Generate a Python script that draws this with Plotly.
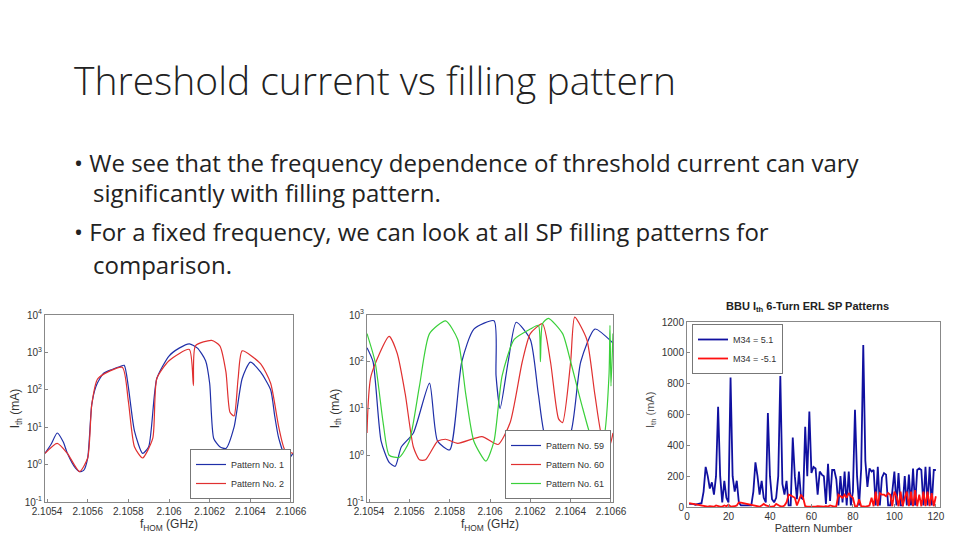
import plotly.graph_objects as go

# panel 1: patterns 1 and 2
f1_blue = [2.10539, 2.10542, 2.10545, 2.10548, 2.1055, 2.10554, 2.10556, 2.10558, 2.1056, 2.10562, 2.10564, 2.10566, 2.10568, 2.10572, 2.10576, 2.10578,
           2.1058, 2.10583, 2.10587, 2.1059, 2.10594, 2.106, 2.10605, 2.1061, 2.10614, 2.10618, 2.1062, 2.10622, 2.10625, 2.10628,
           2.10632, 2.10636, 2.1064, 2.10645, 2.1065, 2.10652, 2.10654, 2.10658, 2.10661]
i1_blue = [2, 3.5, 7, 4, 2, 0.8, 0.65, 0.7, 1.5, 40, 120, 200, 280, 350, 420, 450,
           120, 8, 2, 3, 200, 800, 1300, 1700, 1300, 600, 150, 5, 3, 2.7,
           10, 200, 550, 300, 100, 20, 5, 1.3, 2]
f1_red = [2.10539, 2.10545, 2.1055, 2.10556, 2.1056, 2.10562, 2.10565, 2.10577, 2.1058, 2.10583, 2.10587, 2.10592, 2.10594, 2.106,
          2.1061, 2.10612, 2.10613, 2.10621, 2.10625, 2.10628, 2.1063, 2.10632, 2.10634, 2.10636, 2.10645, 2.1065, 2.10654, 2.10657, 2.10661]
i1_red = [2, 3.7, 2, 0.65, 1.5, 40, 200, 400, 50, 3, 1.5, 5, 200, 600,
          1200, 130, 1500, 2100, 1500, 300, 25, 20, 200, 1100, 500, 150, 10, 2.5, 2]

# panel 2: patterns 59, 60, 61
f2_blue = [2.10539, 2.10542, 2.10546, 2.1055, 2.10553, 2.10556, 2.10562, 2.1057, 2.10574, 2.1058, 2.10586, 2.10592, 2.10602, 2.10603,
           2.10605, 2.10609, 2.10613, 2.1062, 2.10624, 2.10628, 2.10634, 2.1064, 2.10645, 2.10652, 2.10661]
i2_blue = [200, 100, 2, 0.7, 0.58, 1.5, 3, 35, 2, 1.3, 100, 500, 750, 50,
           10, 100, 700, 300, 20, 2, 1.5, 3, 100, 500, 250]
f2_red = [2.10539, 2.10541, 2.1055, 2.10554, 2.10558, 2.10562, 2.10565, 2.10568, 2.10574, 2.10578, 2.10584, 2.10596, 2.10604, 2.1061,
          2.10616, 2.1062, 2.10626, 2.1063, 2.10634, 2.10636, 2.1064, 2.10642, 2.10648, 2.10652, 2.10656, 2.10659, 2.10661]
i2_red = [3, 50, 350, 150, 20, 1.5, 0.8, 0.8, 2, 2.2, 1.8, 2.5, 1.7, 5,
          100, 400, 650, 100, 6, 5, 100, 900, 300, 20, 2, 1.5, 3]
f2_green = [2.10539, 2.10543, 2.10547, 2.1055, 2.10555, 2.1056, 2.10565, 2.1057, 2.10578, 2.10584, 2.10588, 2.10592, 2.10598, 2.10602,
            2.10606, 2.10612, 2.1062, 2.10624, 2.10625, 2.10626, 2.10629, 2.10636, 2.1064, 2.10646, 2.10652, 2.10656, 2.10659, 2.106595, 2.1066, 2.10661]
i2_green = [400, 100, 5, 1, 0.9, 2, 30, 400, 750, 300, 20, 2, 0.75, 2,
            50, 300, 500, 600, 100, 650, 850, 400, 100, 10, 1.6, 2, 50, 600, 30, 400]

# panel 3: threshold per SP pattern
pattern_no = list(range(1, 121))
ith_pos = [20, 20, 20, 15, 20, 20, 25, 100, 260, 200, 120, 160, 80, 200, 650, 200, 30, 170, 60, 30,
           840, 200, 100, 170, 30, 10, 10, 10, 10, 10, 10, 100, 290, 200, 80, 170, 60, 30, 610, 200,
           50, 30, 60, 200, 850, 150, 80, 170, 10, 10, 450, 200, 50, 230, 60, 50, 520, 200, 620, 220,
           260, 250, 80, 230, 210, 200, 20, 280, 40, 240, 240, 180, 10, 200, 30, 230, 10, 230, 10, 100,
           630, 200, 10, 250, 1050, 300, 130, 250, 230, 240, 10, 260, 10, 190, 220, 210, 10, 10, 100, 230,
           10, 220, 10, 10, 200, 10, 210, 10, 250, 10, 240, 250, 240, 10, 260, 10, 260, 10, 240, 240]
ith_neg = [25, 22, 20, 18, 15, 12, 10, 5, 3, 2, 5, 3, 2, 10, 5, 2, 3, 10, 5, 15,
           3, 2, 5, 10, 30, 28, 25, 22, 20, 18, 15, 10, 5, 3, 2, 10, 20, 10, 5, 3,
           2, 5, 20, 10, 5, 3, 10, 30, 80, 75, 70, 60, 10, 50, 80, 60, 5, 3, 2, 5,
           3, 2, 5, 3, 5, 2, 5, 3, 10, 5, 3, 5, 80, 70, 60, 80, 60, 90, 70, 60,
           5, 3, 50, 5, 2, 3, 5, 10, 60, 5, 100, 5, 90, 80, 80, 70, 90, 80, 5, 100,
           70, 5, 100, 5, 60, 100, 5, 100, 5, 110, 5, 80, 5, 100, 5, 100, 5, 90, 5, 70]

BLUE = "#1f2fa8"
RED = "#e03030"
GREEN = "#3ad03a"

fig = go.Figure()
fig.add_trace(go.Scatter(x=f1_blue, y=i1_blue, name="Pattern No. 1", line=dict(color=BLUE, width=1.2, shape="spline", smoothing=0.6), xaxis="x", yaxis="y", legend="legend"))
fig.add_trace(go.Scatter(x=f1_red, y=i1_red, name="Pattern No. 2", line=dict(color=RED, width=1.2, shape="spline", smoothing=0.6), xaxis="x", yaxis="y", legend="legend"))
fig.add_trace(go.Scatter(x=f2_blue, y=i2_blue, name="Pattern No. 59", line=dict(color=BLUE, width=1.2, shape="spline", smoothing=0.6), xaxis="x2", yaxis="y2", legend="legend2"))
fig.add_trace(go.Scatter(x=f2_red, y=i2_red, name="Pattern No. 60", line=dict(color=RED, width=1.2, shape="spline", smoothing=0.6), xaxis="x2", yaxis="y2", legend="legend2"))
fig.add_trace(go.Scatter(x=f2_green, y=i2_green, name="Pattern No. 61", line=dict(color=GREEN, width=1.2, shape="spline", smoothing=0.6), xaxis="x2", yaxis="y2", legend="legend2"))
fig.add_trace(go.Scatter(x=pattern_no, y=ith_pos, name="M34 = 5.1", line=dict(color="#1010a0", width=1.8), xaxis="x3", yaxis="y3", legend="legend3"))
fig.add_trace(go.Scatter(x=pattern_no, y=ith_neg, name="M34 = -5.1", line=dict(color="#ff1010", width=1.8), xaxis="x3", yaxis="y3", legend="legend3"))

W, H = 960, 540
OFF = 8  # page offset of the figure
def fx(px): return (px - OFF) / W
def fy(py): return 1 - (py - OFF) / H

tickfont = dict(family="Liberation Sans", size=10, color="#333")
common = dict(showline=True, mirror=True, linecolor="#888", linewidth=1, ticks="inside", ticklen=3,
              tickcolor="#888", showgrid=False, zeroline=False, tickfont=tickfont, automargin=False)
freq_ticks = [2.1054, 2.1056, 2.1058, 2.106, 2.1062, 2.1064, 2.1066]
freq_text = ["2.1054", "2.1056", "2.1058", "2.106", "2.1062", "2.1064", "2.1066"]
log_ticks = [0.1, 1, 10, 100, 1000, 10000]
log_text = ["10<sup>-1</sup>", "10<sup>0</sup>", "10<sup>1</sup>", "10<sup>2</sup>", "10<sup>3</sup>", "10<sup>4</sup>"]
ith_title = dict(text="I<sub>th</sub> (mA)", font=dict(family="Liberation Sans", size=12, color="#333"), standoff=4)
f_title = dict(text="f<sub>HOM</sub> (GHz)", font=dict(family="Liberation Sans", size=12, color="#333"), standoff=2)
leg_font = dict(family="Liberation Sans", size=9, color="#333")

fig.update_layout(
    width=W, height=H, margin=dict(l=0, r=0, t=0, b=0, autoexpand=False),
    paper_bgcolor="white", plot_bgcolor="white",
    xaxis=dict(domain=[fx(45), fx(293)], range=[2.10539, 2.10661], tickvals=freq_ticks, ticktext=freq_text, title=f_title, anchor="y", **common),
    yaxis=dict(domain=[fy(502), fy(315)], type="log", range=[-1, 4], tickvals=log_ticks, ticktext=log_text, title=ith_title, anchor="x", **common),
    xaxis2=dict(domain=[fx(367), fx(613)], range=[2.10539, 2.10661], tickvals=freq_ticks, ticktext=freq_text, title=f_title, anchor="y2", **common),
    yaxis2=dict(domain=[fy(502), fy(315)], type="log", range=[-1, 3], tickvals=log_ticks[:5], ticktext=log_text[:5], title=ith_title, anchor="x2", **common),
    xaxis3=dict(domain=[fx(687), fx(940)], range=[0, 122], tickvals=[0, 20, 40, 60, 80, 100, 120], title=dict(text="Pattern Number", font=dict(family="Liberation Sans", size=11, color="#333"), standoff=2), anchor="y3", **common),
    yaxis3=dict(domain=[fy(507), fy(322)], range=[0, 1200], tickvals=[0, 200, 400, 600, 800, 1000, 1200], anchor="x3", **common),
    legend=dict(x=fx(291), y=fy(499), xanchor="right", yanchor="bottom", bgcolor="white", bordercolor="#777", borderwidth=1,
                font=leg_font, itemwidth=30, tracegroupgap=0),
    legend2=dict(x=fx(611), y=fy(499), xanchor="right", yanchor="bottom", bgcolor="white", bordercolor="#777", borderwidth=1,
                 font=leg_font, itemwidth=30),
    legend3=dict(x=fx(692), y=fy(324), xanchor="left", yanchor="top", bgcolor="white", bordercolor="#777", borderwidth=1,
                 font=leg_font, itemwidth=30),
    annotations=[
        dict(text="Threshold current vs filling pattern", x=fx(72), y=fy(80), xref="paper", yref="paper",
             xanchor="left", yanchor="middle", showarrow=False, font=dict(family="Open Sans", size=39, color="#222", weight=300)),
        dict(text="• We see that the frequency dependence of threshold current can vary", x=fx(72), y=fy(162), xref="paper", yref="paper",
             xanchor="left", yanchor="middle", showarrow=False, font=dict(family="Open Sans", size=24, color="#222")),
        dict(text="significantly with filling pattern.", x=fx(91), y=fy(193), xref="paper", yref="paper",
             xanchor="left", yanchor="middle", showarrow=False, font=dict(family="Open Sans", size=24, color="#222")),
        dict(text="• For a fixed frequency, we can look at all SP filling patterns for", x=fx(72), y=fy(232), xref="paper", yref="paper",
             xanchor="left", yanchor="middle", showarrow=False, font=dict(family="Open Sans", size=24, color="#222")),
        dict(text="comparison.", x=fx(91), y=fy(264), xref="paper", yref="paper",
             xanchor="left", yanchor="middle", showarrow=False, font=dict(family="Open Sans", size=24, color="#222")),
        dict(text="<b>BBU I<sub>th</sub> 6-Turn ERL SP Patterns</b>", x=fx(807), y=fy(307), xref="paper", yref="paper",
             xanchor="center", yanchor="middle", showarrow=False, font=dict(family="Liberation Sans", size=11, color="#222")),
        dict(text="I<sub>th</sub> (mA)", x=fx(651), y=fy(410), xref="paper", yref="paper", textangle=-90,
             xanchor="center", yanchor="middle", showarrow=False, font=dict(family="Liberation Sans", size=11, color="#555")),
    ],
)

fig.write_html("out.html")
